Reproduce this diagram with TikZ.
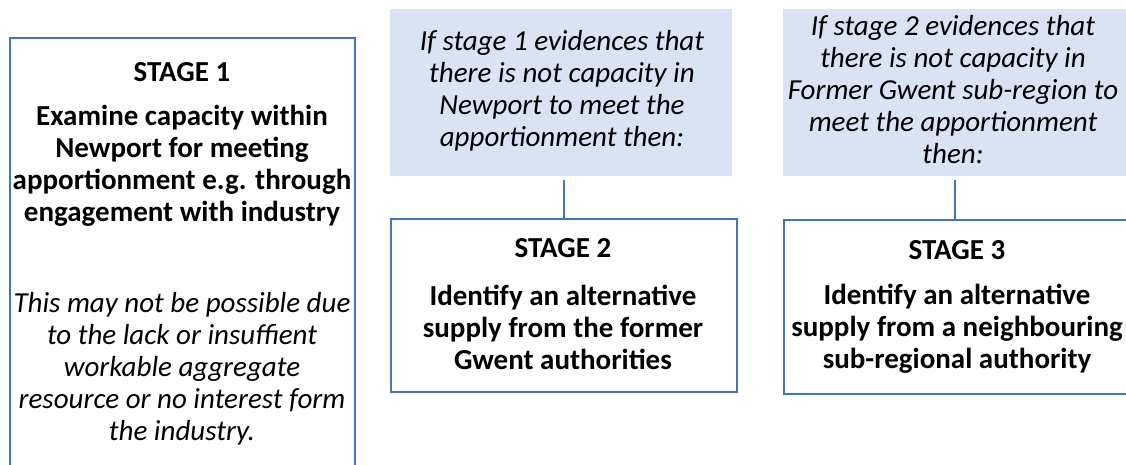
\documentclass[tikz,border=0pt]{standalone}
\usepackage{fontspec}
\setmainfont{Carlito}
\definecolor{boxline}{HTML}{4472C4}
\definecolor{notefill}{HTML}{DAE3F3}
\tikzset{
  stagebox/.style={draw=boxline, line width=2pt, fill=white, inner sep=0pt, anchor=north west},
  notebox/.style={fill=notefill, draw=none, inner sep=0pt, anchor=north west},
  titletext/.style={font=\fontsize{29}{32}\selectfont\bfseries, inner sep=0pt, align=center},
  bodytext/.style={font=\fontsize{29}{32}\selectfont\bfseries, inner sep=0pt, align=center},
  notetext/.style={font=\fontsize{29}{32}\selectfont\itshape, inner sep=0pt, align=center, text=black},
  link/.style={draw=boxline, line width=2pt}
}
\begin{document}
\begin{tikzpicture}[x=1pt,y=-1pt]
\useasboundingbox (0,0) rectangle (1126,465);
\clip (0,0) rectangle (1126,465);
% Stage 1
\node[stagebox, minimum width=345pt, minimum height=500pt] (s1) at (9,37) {};
\node[titletext] (s1t) at (182,72) {STAGE 1};
\node[bodytext] (s1b) at (182,166) {Examine capacity within\\Newport for meeting\\apportionment e.g. through\\engagement with industry};
\node[notetext] (s1n) at (182,369) {This may not be possible due\\to the lack or insuffient\\workable aggregate\\resource or no interest form\\the industry.};
% Note 1 and Stage 2
\node[notebox, minimum width=342pt, minimum height=167pt] (n1) at (390,9) {};
\node[notetext] (n1t) at (562,91) {If stage 1 evidences that\\there is not capacity in\\Newport to meet the\\apportionment then:};
\node[stagebox, minimum width=346pt, minimum height=173pt] (s2) at (390,218) {};
\node[titletext] (s2t) at (563,248) {STAGE 2};
\node[bodytext] (s2b) at (563,327) {Identify an alternative\\supply from the former\\Gwent authorities};
% Note 2 and Stage 3
\node[notebox, minimum width=360pt, minimum height=167pt] (n2) at (783,9) {};
\node[notetext] (n2t) at (953,90) {If stage 2 evidences that\\there is not capacity in\\Former Gwent sub-region to\\meet the apportionment\\then:};
\node[stagebox, minimum width=360pt, minimum height=174pt] (s3) at (783,219) {};
\node[titletext] (s3t) at (957,250) {STAGE 3};
\node[bodytext] (s3b) at (957,329) {Identify an alternative\\supply from a neighbouring\\sub-regional authority};
% connectors
\draw[link, shorten <=4pt] (s2.north |- n1.south) -- (s2.north);
\coordinate (c3) at (955,0);
\draw[link, shorten <=4pt] (c3 |- n2.south) -- (c3 |- s3.north);
\end{tikzpicture}
\end{document}
